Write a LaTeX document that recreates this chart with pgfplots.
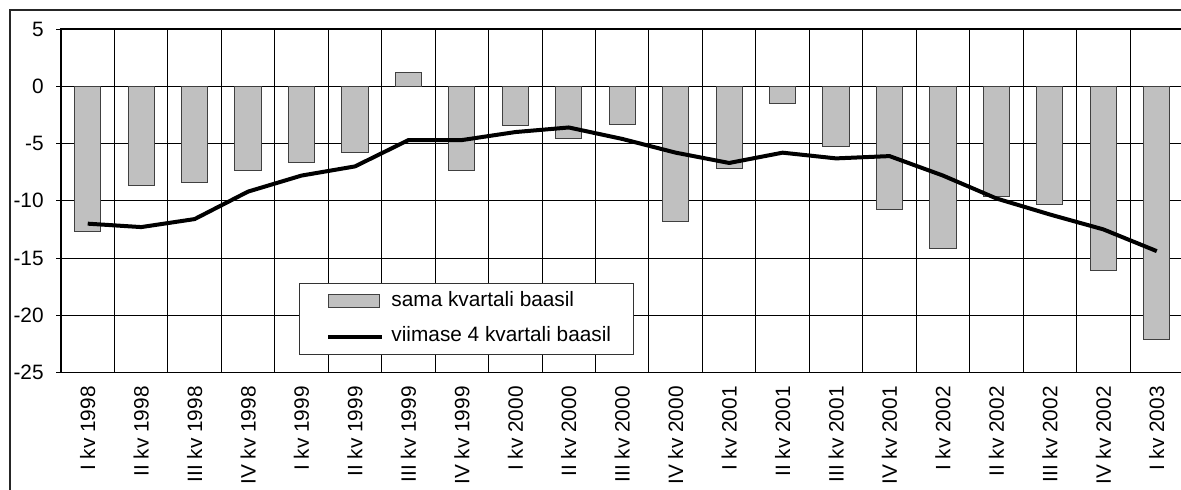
\documentclass[border=0pt]{standalone}
\usepackage{fontspec}
\setmainfont{Liberation Sans}
\usepackage{pgfplots}
\pgfplotsset{compat=1.18}
\definecolor{bargray}{HTML}{C0C0C0}
\begin{document}
\begin{tikzpicture}[font=\fontsize{10.4}{12}\selectfont]
\path[use as bounding box, clip] (-30.5pt,-58.25pt) rectangle (560pt,186.25pt);
\draw[black!85, line width=0.6pt] (-25.5pt,-80pt) -- (-25.5pt,181.25pt) -- (580pt,181.25pt);
\begin{axis}[
  at={(0pt,0pt)}, anchor=south west,
  scale only axis, width=561.25pt, height=171.75pt,
  xmin=-0.5, xmax=20.5, ymin=-25, ymax=5,
  ytick={-25,-20,-15,-10,-5,0,5},
  yticklabels={-25,-20,-15,-10,-5,0,5},
  xtick={0,...,20},
  xticklabels={I kv 1998,II kv 1998,III kv 1998,IV kv 1998,I kv 1999,II kv 1999,III kv 1999,IV kv 1999,I kv 2000,II kv 2000,III kv 2000,IV kv 2000,I kv 2001,II kv 2001,III kv 2001,IV kv 2001,I kv 2002,II kv 2002,III kv 2002,IV kv 2002,I kv 2003},
  x tick label style={rotate=90, anchor=east, inner sep=0pt, xshift=-4.25pt},
  y tick label style={anchor=east, inner sep=0pt, xshift=-6pt},
  minor xtick={0.5,1.5,...,19.5},
  xminorgrids=true, ymajorgrids=true,
  major grid style={black, line width=0.5pt},
  minor grid style={black, line width=0.5pt},
  major x tick style={draw=none},
  minor x tick style={draw=none},
  major y tick style={black, line width=0.5pt},
  tick align=center, major tick length=5pt,
  axis line style={black, line width=0.6pt},
  legend cell align=left,
  legend style={at={(0.212,0.2606)}, anchor=north west, draw=black!80, line width=0.5pt, fill=white,
    inner xsep=10pt, inner ysep=3pt, row sep=6pt, column sep=2.5pt,
    nodes={inner sep=1pt, text height=7.5pt, text depth=2.2pt}},
]
\addplot[ybar, bar width=0.49, fill=bargray, draw=black!75, line width=0.5pt,
  legend image code/.code={\path (0pt,0pt); \draw[fill=bargray, draw=black!75, line width=0.5pt] (3.5pt,-3.25pt) rectangle (29pt,3.25pt);}]
coordinates {(0,-12.7) (1,-8.7) (2,-8.4) (3,-7.4) (4,-6.7) (5,-5.8) (6,1.2) (7,-7.4) (8,-3.4) (9,-4.6) (10,-3.3) (11,-11.8) (12,-7.2) (13,-1.5) (14,-5.3) (15,-10.8) (16,-14.2) (17,-9.6) (18,-10.3) (19,-16.1) (20,-22.1)};
\addlegendentry{sama kvartali baasil}
\addplot[black, line width=2pt, mark=none, line join=round,
  legend image code/.code={\path (0pt,0pt); \draw[black, line width=2pt] (3.5pt,0pt) -- (30.5pt,0pt);}]
coordinates {(0,-12.0) (1,-12.3) (2,-11.6) (3,-9.2) (4,-7.8) (5,-7.0) (6,-4.7) (7,-4.7) (8,-4.0) (9,-3.6) (10,-4.6) (11,-5.8) (12,-6.7) (13,-5.8) (14,-6.3) (15,-6.1) (16,-7.8) (17,-9.8) (18,-11.2) (19,-12.5) (20,-14.4)};
\addlegendentry{viimase 4 kvartali baasil}
\pgfplotsinvokeforeach{0.5,1.5,...,19.5}{\draw[black, line width=0.5pt] (axis cs:#1,0) ++(0pt,-2pt) -- ++(0pt,4pt);}
\end{axis}
\end{tikzpicture}
\end{document}
